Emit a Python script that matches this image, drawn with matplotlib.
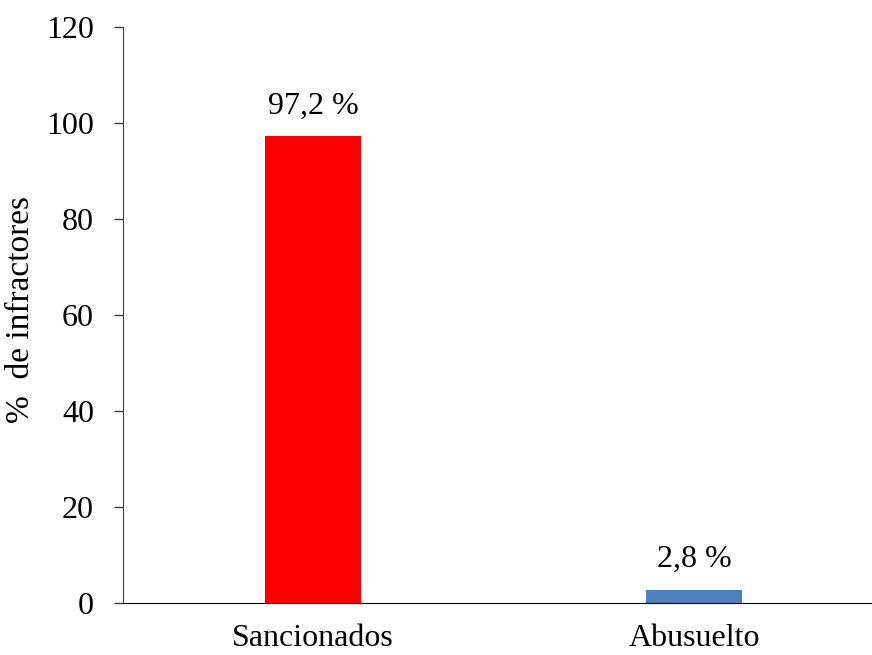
import matplotlib
matplotlib.use("Agg")
import matplotlib.pyplot as plt

categories = ["Sancionados", "Abusuelto"]
values = [97.2, 2.8]
labels = ["97,2 %", "2,8 %"]
colors = ["#FF0000", "#4F81BD"]

plt.rcParams["font.family"] = ["Liberation Serif", "DejaVu Serif"]

W, H = 872, 655
fig = plt.figure(figsize=(W / 100, H / 100), dpi=100)
ax = fig.add_axes([122.5 / W, (H - 603) / H, 762 / W, 576 / H])

x = range(len(categories))
ax.bar(x, values, width=0.252, color=colors)
for xi, v, lab in zip(x, values, labels):
    ax.annotate(lab, (xi, v), xytext=(0, 11), textcoords="offset points",
                ha="center", va="bottom", fontsize=23)

ax.set_xlim(-0.5, 1.5)
ax.set_ylim(0, 120)
ax.set_yticks(range(0, 121, 20))
ax.set_xticks(list(x))
ax.set_xticklabels(categories)
ax.tick_params(axis="y", direction="out", length=6.5, width=1, labelsize=23, pad=14,
               colors="#404040", labelcolor="black")
ax.tick_params(axis="x", length=0, labelsize=23, pad=15)
ax.set_ylabel("%  de infractores", fontsize=24)
ax.yaxis.set_label_coords(-0.113, 0.509)

for s in ["top", "right"]:
    ax.spines[s].set_visible(False)
ax.spines["left"].set_color("#404040")
ax.spines["bottom"].set_color("black")

fig.savefig("out.png", dpi=100)
